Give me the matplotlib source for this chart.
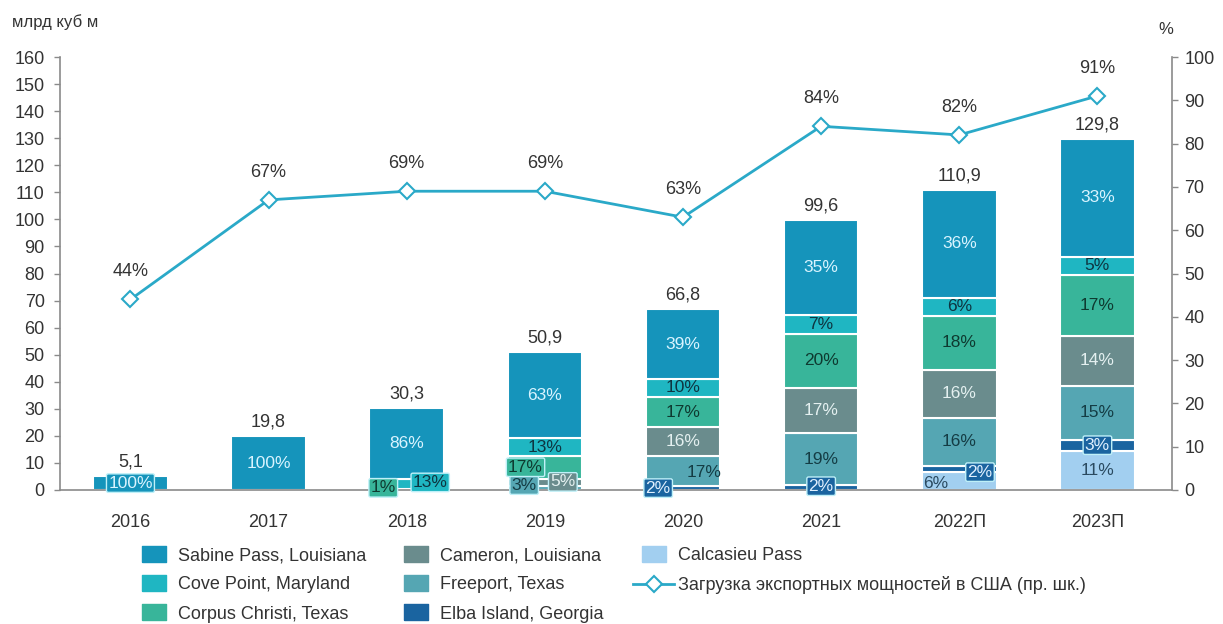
import numpy as np
import matplotlib
matplotlib.use("Agg")
import matplotlib.pyplot as plt
from matplotlib.lines import Line2D

plt.rcParams['font.family'] = ['Liberation Sans', 'DejaVu Sans']

# ---------------- data ----------------
years = ['2016', '2017', '2018', '2019', '2020', '2021', '2022П', '2023П']
totals = [5.1, 19.8, 30.3, 50.9, 66.8, 99.6, 110.9, 129.8]
utilization = [44, 67, 69, 69, 63, 84, 82, 91]

# shares of each terminal in total exports, %
calcasieu = [0, 0, 0, 0, 0, 0, 6, 11]
elba = [0, 0, 0, 0, 2, 2, 2, 3]
freeport = [0, 0, 0, 3, 17, 19, 16, 15]
cameron = [0, 0, 0, 5, 16, 17, 16, 14]
corpus = [0, 0, 1, 17, 17, 20, 18, 17]
cove = [0, 0, 13, 13, 10, 7, 6, 5]
sabine = [100, 100, 86, 63, 39, 35, 36, 33]

series_names = ['Calcasieu Pass', 'Elba Island, Georgia', 'Freeport, Texas',
                'Cameron, Louisiana', 'Corpus Christi, Texas',
                'Cove Point, Maryland', 'Sabine Pass, Louisiana']
series_shares = [calcasieu, elba, freeport, cameron, corpus, cove, sabine]
line_label = 'Загрузка экспортных мощностей в США (пр. шк.)'

# ---------------- styles ----------------
colors = {
    'Sabine Pass, Louisiana': '#1594bb',
    'Cove Point, Maryland': '#1fb6c2',
    'Corpus Christi, Texas': '#38b59a',
    'Cameron, Louisiana': '#6a8c8d',
    'Freeport, Texas': '#55a6b3',
    'Elba Island, Georgia': '#1a64a0',
    'Calcasieu Pass': '#a2cff0',
}
text_colors = {
    'Sabine Pass, Louisiana': '#d9f4ff',
    'Cove Point, Maryland': '#0e3440',
    'Corpus Christi, Texas': '#0e3a30',
    'Cameron, Louisiana': '#e4f0f0',
    'Freeport, Texas': '#143c44',
    'Elba Island, Georgia': '#e0f0ff',
    'Calcasieu Pass': '#2a4a60',
}
line_color = '#2aa9c8'
# label placement tweaks: (series, year index) -> (dx, y or None, boxed)
label_layout = {
    ('Sabine Pass, Louisiana', 0): (0.0, None, True),
    ('Corpus Christi, Texas', 2): (-0.17, 0.8, True),
    ('Cove Point, Maryland', 2): (0.17, 2.8, True),
    ('Freeport, Texas', 3): (-0.15, 1.8, True),
    ('Cameron, Louisiana', 3): (0.13, 3.0, True),
    ('Corpus Christi, Texas', 3): (-0.14, 8.4, True),
    ('Elba Island, Georgia', 4): (-0.18, 0.7, True),
    ('Freeport, Texas', 4): (0.15, 6.6, False),
    ('Elba Island, Georgia', 5): (0.0, 1.4, True),
    ('Calcasieu Pass', 6): (-0.17, 2.4, False),
    ('Elba Island, Georgia', 6): (0.15, 6.6, True),
    ('Elba Island, Georgia', 7): (0.0, None, True),
}

FS = 13
FSB = 12.5
fig = plt.figure(figsize=(12.23, 6.24), dpi=100)
ax = fig.add_axes([60 / 1223, 1 - 490 / 624, (1172 - 60) / 1223, (490 - 57) / 624])
ax2 = ax.twinx()

x = np.arange(len(years))
width = 0.54
share_sums = np.sum(np.array(series_shares, dtype=float), axis=0)
bottom = np.zeros(len(years))
for name, shares in zip(series_names, series_shares):
    vals = np.array(totals) * np.array(shares, dtype=float) / share_sums
    ax.bar(x, vals, width, bottom=bottom, color=colors[name],
           edgecolor='white', linewidth=1.5, zorder=2)
    for i, (v, s) in enumerate(zip(vals, shares)):
        if s <= 0:
            continue
        dx, yy, boxed = label_layout.get((name, i), (0.0, None, False))
        ypos = bottom[i] + v / 2 if yy is None else yy
        kw = {}
        if boxed:
            kw['bbox'] = dict(boxstyle='round,pad=0.1', fc=colors[name],
                              ec='#bff0f8', lw=1.0)
        ax.text(x[i] + dx, ypos, f'{s}%', ha='center', va='center',
                fontsize=FSB, color=text_colors[name], zorder=5, **kw)
    bottom = bottom + vals

for i, t in enumerate(totals):
    ax.annotate(f'{t:.1f}'.replace('.', ','), (x[i], t), xytext=(0, 4),
                textcoords='offset points', ha='center', va='bottom',
                fontsize=FS, color='#333333')

ax2.plot(x, utilization, color=line_color, lw=2, marker='D', ms=8,
         mfc='white', mec=line_color, mew=1.5, zorder=4)
for i, u in enumerate(utilization):
    ax2.annotate(f'{u}%', (x[i], u), xytext=(0, 20), textcoords='offset points',
                 ha='center', va='center', fontsize=FS, color='#333333')

ax.set_xlim(-0.51, 7.54)
ax.set_ylim(0, 160)
ax2.set_ylim(0, 100)
ax.set_yticks(np.arange(0, 161, 10))
ax2.set_yticks(np.arange(0, 101, 10))
ax.set_xticks(x)
ax.set_xticklabels(years)

for a in (ax, ax2):
    a.spines['top'].set_visible(False)
    for sp in a.spines.values():
        sp.set_color('#8a8a8a')
        sp.set_linewidth(1.2)
ax.spines['right'].set_visible(False)
ax2.spines['left'].set_visible(False)
ax2.spines['bottom'].set_visible(False)
ax.tick_params(axis='y', length=4, width=1, color='#8a8a8a', labelsize=FS,
               labelcolor='#333333', pad=7)
ax.tick_params(axis='x', length=0, labelsize=FS, labelcolor='#333333', pad=17)
ax2.tick_params(axis='y', length=4, width=1, color='#8a8a8a', labelsize=FS,
                labelcolor='#333333', pad=5)

fig.text(12 / 1223, 1 - 22 / 624, 'млрд куб м', fontsize=FS - 1,
         color='#333333', ha='left', va='center')
fig.text(1166 / 1223, 1 - 30 / 624, '%', fontsize=FS - 1,
         color='#333333', ha='center', va='center')

# legend
order = ['Sabine Pass, Louisiana', 'Cove Point, Maryland', 'Corpus Christi, Texas',
         'Cameron, Louisiana', 'Freeport, Texas', 'Elba Island, Georgia',
         'Calcasieu Pass']
rect = [(-1.45, -1), (1.45, -1), (1.45, 1), (-1.45, 1), (-1.45, -1)]
handles = [Line2D([], [], ls='none', marker=rect, ms=17, mfc=colors[n],
                  mec=colors[n]) for n in order]
handles.append(Line2D([], [], color=line_color, lw=2, marker='D', ms=8,
                      mfc='white', mec=line_color, mew=1.5))
labels = order + [line_label]
fig.legend(handles, labels, ncol=3, loc='upper left',
           bbox_to_anchor=(124 / 1223, 1 - 538 / 624), frameon=False,
           fontsize=FS, handlelength=2.3, handletextpad=0.2,
           columnspacing=1.6, labelspacing=0.68, borderpad=0,
           labelcolor='#333333')

fig.savefig('out.png', dpi=100)
